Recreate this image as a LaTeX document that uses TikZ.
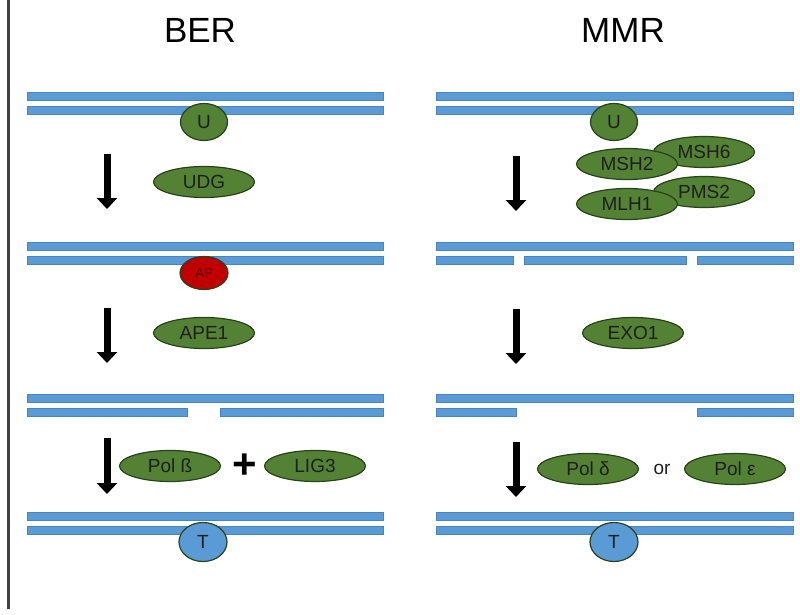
\documentclass[tikz,border=0pt]{standalone}
\usepackage{fontspec}
\setmainfont{Liberation Sans}
\usetikzlibrary{shapes.geometric,arrows.meta}
\definecolor{dnablue}{HTML}{5B9BD5}
\definecolor{dnaedge}{HTML}{4A83BD}
\definecolor{protgreen}{HTML}{548235}
\definecolor{protedge}{HTML}{2A421C}
\definecolor{apred}{HTML}{C00000}
\definecolor{aptext}{HTML}{5A0000}
\definecolor{textdark}{HTML}{1E1E1E}
\tikzset{
  strand/.style={fill=dnablue, draw=dnaedge, line width=0.6pt},
  prot/.style={ellipse, fill=protgreen, draw=protedge, line width=1.2pt, inner sep=0pt,
    minimum width=101pt, minimum height=31pt, font=\fontsize{19}{19}\selectfont, text=textdark},
  base/.style={ellipse, draw=protedge, line width=1.2pt, inner sep=0pt,
    minimum width=47pt, minimum height=37pt, font=\fontsize{19}{19}\selectfont, text=textdark},
  stepar/.style={line width=7pt, -{Triangle[width=20pt,length=11pt]}},
  title/.style={font=\fontsize{35}{35}\selectfont, text=black}
}
\begin{document}
\begin{tikzpicture}[x=1pt,y=-1pt]
\useasboundingbox (0,0) rectangle (800,615);
% left rule
\draw[line width=3pt, color=black!75] (8.5,0) -- (8.5,609);
% titles
\node[title] (ber) at (200,30) {BER};
\node[title] (mmr) at (623,30) {MMR};

% ---------- BER ----------
% DNA 1
\fill[strand] (27,92) rectangle (383,100);
\fill[strand] (27,106) rectangle (383,114);
\node[base, fill=protgreen] (u1) at (204,122) {U};
\coordinate (b1s) at (107,154); \coordinate (b1e) at (107,209);
\draw[stepar] (b1s) -- (b1e);
\node[prot] (udg) at (204,182) {UDG};
% DNA 2
\fill[strand] (27,242) rectangle (383,250);
\fill[strand] (27,256) rectangle (383,264);
\node[base, fill=apred, minimum width=48pt, minimum height=33pt, font=\fontsize{13}{13}\selectfont, text=aptext] (ap) at (204,273) {AP};
\coordinate (b2s) at (107,308); \coordinate (b2e) at (107,363);
\draw[stepar] (b2s) -- (b2e);
\node[prot] (ape) at (204,333) {APE1};
% DNA 3
\fill[strand] (27,394) rectangle (383,402);
\fill[strand] (27,408) rectangle (187,416);
\fill[strand] (220,408) rectangle (383,416);
\coordinate (b3s) at (107,438); \coordinate (b3e) at (107,494);
\draw[stepar] (b3s) -- (b3e);
\node[prot] (polb) at (170,466) {Pol ß};
\node[font=\fontsize{42}{42}\selectfont\bfseries, inner sep=0pt] (plus) at (245,466) {+};
\node[prot] (lig) at (315,466) {LIG3};
% DNA 4
\fill[strand] (27,512) rectangle (383,520);
\fill[strand] (27,526) rectangle (383,534);
\node[base, fill=dnablue, minimum width=48pt, minimum height=39pt] (t1) at (203,542) {T};

% ---------- MMR ----------
% DNA 1
\fill[strand] (436,92) rectangle (793,100);
\fill[strand] (436,106) rectangle (793,114);
\node[base, fill=protgreen] (u2) at (614,122) {U};
\coordinate (m1s) at (516,156); \coordinate (m1e) at (516,211);
\draw[stepar] (m1s) -- (m1e);
\node[prot] (msh6) at (704,152) {MSH6};
\node[prot] (msh2) at (627,164) {MSH2};
\node[prot] (pms2) at (704,192) {PMS2};
\node[prot] (mlh1) at (627,204) {MLH1};
% DNA 2
\fill[strand] (436,242) rectangle (793,250);
\fill[strand] (436,256) rectangle (513,264);
\fill[strand] (524,256) rectangle (686,264);
\fill[strand] (697,256) rectangle (793,264);
\coordinate (m2s) at (516,309); \coordinate (m2e) at (516,364);
\draw[stepar] (m2s) -- (m2e);
\node[prot] (exo) at (633,333) {EXO1};
% DNA 3
\fill[strand] (436,394) rectangle (793,402);
\fill[strand] (436,408) rectangle (516,416);
\fill[strand] (697,408) rectangle (793,416);
\coordinate (m3s) at (516,442); \coordinate (m3e) at (516,497);
\draw[stepar] (m3s) -- (m3e);
\node[prot] (pold) at (588,469) {Pol δ};
\node[font=\fontsize{19}{19}\selectfont, text=textdark, inner sep=0pt] (or) at (662,469) {or};
\node[prot] (pole) at (735,469) {Pol ε};
% DNA 4
\fill[strand] (436,512) rectangle (793,520);
\fill[strand] (436,526) rectangle (793,534);
\node[base, fill=dnablue, minimum width=48pt, minimum height=39pt] (t2) at (614,542) {T};
\end{tikzpicture}
\end{document}
